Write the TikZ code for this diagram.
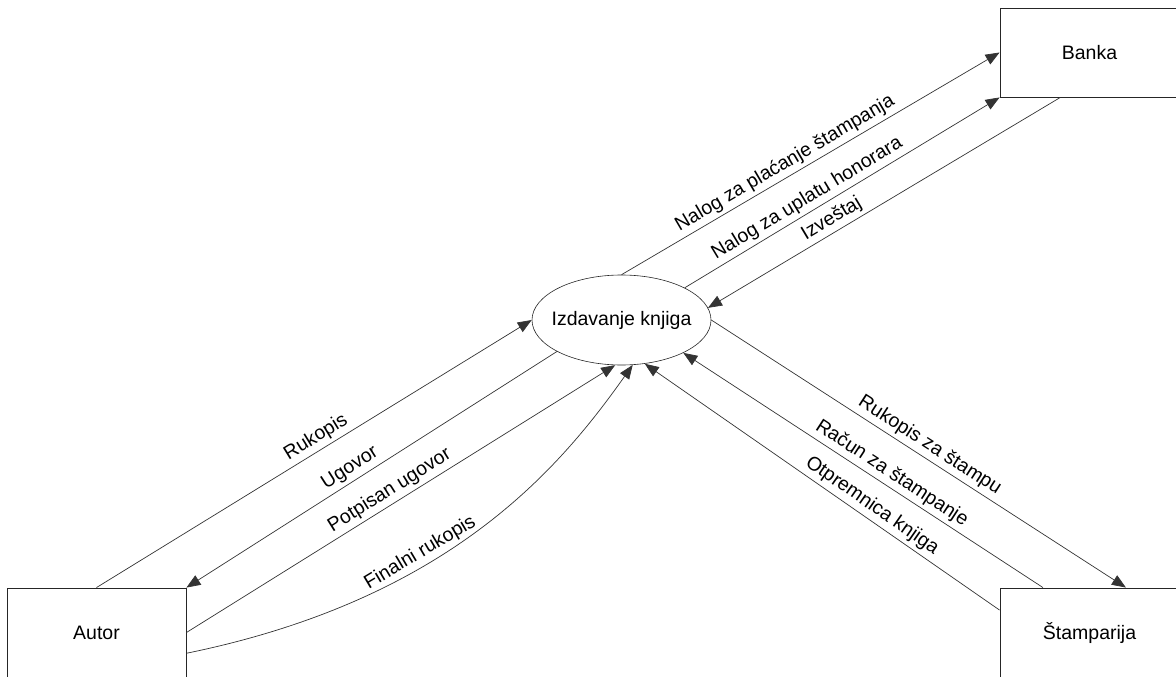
\documentclass[tikz,border=0pt]{standalone}
\usepackage{fontspec}
\setmainfont{Liberation Sans}
\usetikzlibrary{arrows.meta,shapes.geometric,positioning}

\begin{document}
\begin{tikzpicture}[x=1pt,y=-1pt,
  font=\fontsize{19.5}{23}\selectfont,
  kasten/.style={draw=black!85,line width=0.9pt,minimum width=179pt,minimum height=89pt,inner sep=0pt},
  prozess/.style={draw=black!85,line width=0.6pt,ellipse,minimum width=179pt,minimum height=90pt,inner sep=0pt},
  fluss/.style={draw=black!80,line width=0.7pt,-{Triangle[length=14pt,width=11pt]}},
  txt/.style={sloped,above,inner sep=3.5pt}]
%Koordinaten wie im Bild in Pixeln, y zeigt nach unten
\useasboundingbox (0,0) rectangle (1176,677);
\clip (0,0) rectangle (1176,677);
\node[kasten] (banka) at (1089.5,52.5) {Banka};
\node[kasten] (autor) at (96.5,632.5) {Autor};
\node[kasten] (stamparija) at (1089.5,632.5) {Štamparija};
\node[prozess,label=center:Izdavanje knjiga] (izdavanje) at (621.5,320) {};
%Banka
\draw[fluss] (izdavanje.north) -- node[txt,pos=0.45] {Nalog za plaćanje štampanja} (banka.west);
\draw[fluss] (izdavanje.27) -- node[txt,pos=0.41] {Nalog za uplatu honorara} (banka.south west);
\draw[fluss] (banka.-123) -- node[txt,pos=0.63] {Izveštaj} (izdavanje.8);
%Autor
\draw[fluss] (autor.north) -- node[txt,pos=0.52] {Rukopis} (izdavanje.west);
\draw[fluss] (izdavanje.206) -- node[txt,pos=0.54] {Ugovor} (autor.north east);
\draw[fluss] (autor.east) -- node[txt,pos=0.49] {Potpisan ugovor} (izdavanje.-98);
\draw[fluss] (autor.-13.5) .. controls +(264,-54) and +(-73,103) .. node[txt,pos=0.38] {Finalni rukopis} (izdavanje.-76);
%Stamparija
\draw[fluss] (izdavanje.east) -- node[txt,pos=0.51] {Rukopis za štampu} (stamparija.51);
\draw[fluss] (stamparija.136) -- node[txt,pos=0.44] {Račun za štampanje} (izdavanje.-28);
\draw[fluss] (stamparija.166) -- node[txt,pos=0.38] {Otpremnica knjiga} (izdavanje.-62);
\end{tikzpicture}
\end{document}
